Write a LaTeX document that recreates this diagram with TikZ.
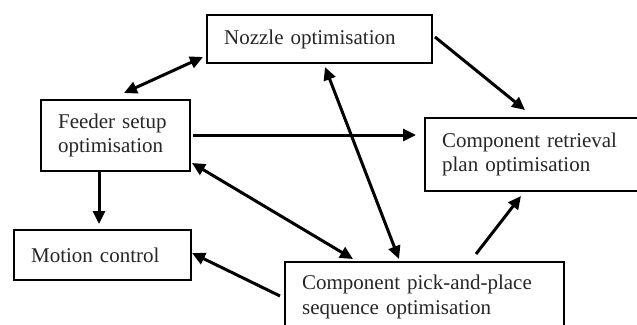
\documentclass[tikz,border=0pt]{standalone}
\usepackage{fontspec}
\setmainfont{Liberation Serif}
\usetikzlibrary{arrows.meta}
\begin{document}
\begin{tikzpicture}[x=1pt,y=-1pt,
  box/.style={draw,line width=2.2pt,anchor=north west,inner xsep=17pt,inner ysep=0pt,
    align=left,font=\fontsize{21}{24.5}\selectfont,text=black!85},
  conn/.style={line width=3pt,-{Triangle[length=13pt,width=12pt]}},
  dconn/.style={line width=3pt,{Triangle[length=13pt,width=12pt]}-{Triangle[length=13pt,width=12pt]}}]
\useasboundingbox (0,0) rectangle (637,324);
\node[box,minimum width=225pt,minimum height=48pt,text width=191pt] (nozzle) at (206,14) {Nozzle optimisation};
\node[box,minimum width=149pt,minimum height=71pt,text width=115pt] (feeder) at (40,99) {Feeder setup\\optimisation};
\node[box,minimum width=240pt,minimum height=73pt,text width=206pt] (retr) at (424,117) {Component retrieval\\plan optimisation};
\node[box,minimum width=177pt,minimum height=50pt,text width=143pt] (motion) at (13,229) {Motion control};
\node[box,minimum width=279pt,minimum height=70pt,text width=245pt] (pick) at (284,261) {Component pick-and-place\\sequence optimisation};
\draw[dconn] ([shift={(84,-6)}]feeder.north west) -- ([shift={(-3,43)}]nozzle.north west);
\draw[conn] ([shift={(153,36)}]feeder.north west) -- ([shift={(-8,18)}]retr.north west);
\draw[conn] ([shift={(229,23)}]nozzle.north west) -- ([shift={(101,-7)}]retr.north west);
\draw[dconn] ([shift={(119,53)}]nozzle.north west) -- ([shift={(115,-2)}]pick.north west);
\draw[dconn] ([shift={(152,64)}]feeder.north west) -- ([shift={(69,-2)}]pick.north west);
\draw[conn] ([shift={(59,73)}]feeder.north west) -- ([shift={(86,-5)}]motion.north west);
\draw[conn] ([shift={(-4,35)}]pick.north west) -- ([shift={(179,24)}]motion.north west);
\draw[conn] ([shift={(192,-7)}]pick.north west) -- ([shift={(97,79)}]retr.north west);
\end{tikzpicture}
\end{document}
